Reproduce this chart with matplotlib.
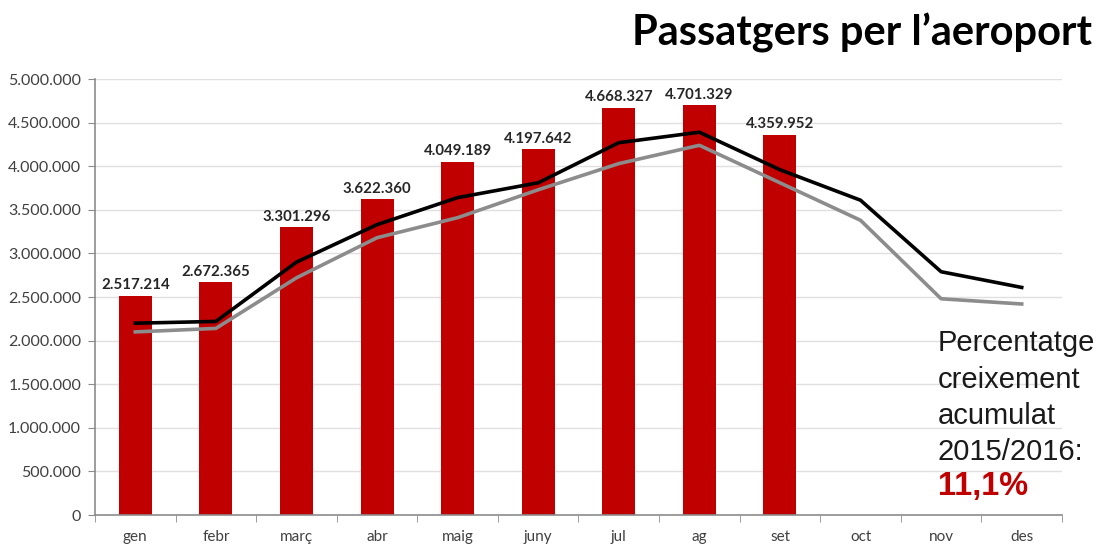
import numpy as np
import matplotlib
matplotlib.use("Agg")
import matplotlib.pyplot as plt
from matplotlib.ticker import FuncFormatter, FixedLocator

# monthly data
months = ['gen', 'febr', 'març', 'abr', 'maig', 'juny', 'jul', 'ag', 'set', 'oct', 'nov', 'des']
pax_2016 = [2517214, 2672365, 3301296, 3622360, 4049189, 4197642, 4668327, 4701329, 4359952]
line_black = [2.20, 2.22, 2.90, 3.33, 3.64, 3.81, 4.27, 4.39, 3.96, 3.61, 2.79, 2.61]
line_gray = [2.10, 2.14, 2.72, 3.18, 3.41, 3.73, 4.03, 4.24, 3.81, 3.38, 2.48, 2.42]
yticks = [0, 500000, 1000000, 1500000, 2000000, 2500000, 3000000, 3500000, 4000000, 4500000, 5000000]

def fmt_dot(v, pos=None):
    return f"{int(round(v)):,}".replace(",", ".")

fig = plt.figure(figsize=(11.02, 5.45), dpi=100)
ax = fig.add_axes([0.0862, 0.055, 0.8775, 0.80])

x = np.arange(len(months))
xb = x[:len(pax_2016)]
ax.bar(xb, pax_2016, width=0.41, color='#C00000', zorder=2)
ax.plot(x, np.array(line_gray) * 1e6, color='#8C8C8C', lw=2.6, zorder=3)
ax.plot(x, np.array(line_black) * 1e6, color='#000000', lw=2.6, zorder=4)

for xi, v in zip(xb, pax_2016):
    ax.annotate(fmt_dot(v), (xi, v), xytext=(0, 2.5), textcoords='offset points',
                ha='center', va='bottom', fontsize=10.8, fontweight='bold',
                color='#262626', family='Lato')

ax.set_xlim(-0.5, len(months) - 0.5)
ax.set_ylim(0, 5000000)
ax.set_yticks(yticks)
ax.yaxis.set_major_formatter(FuncFormatter(fmt_dot))
ax.grid(axis='y', color='#E0E0E0', lw=1, zorder=0)
ax.set_axisbelow(True)

ax.set_xticks(x)
ax.set_xticklabels(months)
ax.xaxis.set_minor_locator(FixedLocator(np.arange(-0.5, len(months), 1)))
ax.tick_params(axis='x', which='major', length=0, pad=10.5, labelsize=11, labelcolor='#404040')
ax.tick_params(axis='x', which='minor', length=5, color='#8C8C8C', direction='out')
ax.tick_params(axis='y', length=5, color='#8C8C8C', labelsize=11.5, labelcolor='#404040', pad=5)
for lab in ax.get_xticklabels() + ax.get_yticklabels():
    lab.set_family('Lato')

for s in ['top', 'right']:
    ax.spines[s].set_visible(False)
for s in ['left', 'bottom']:
    ax.spines[s].set_color('#8C8C8C')
    ax.spines[s].set_linewidth(1.2)

fig.text(0.991, 0.94, "Passatgers per l\u2019aeroport", ha='right', va='center',
         fontsize=30, fontweight='bold', family='Lato', color='#000000')

fig.text(0.851, 0.396, "Percentatge\ncreixement\nacumulat\n2015/2016:", ha='left', va='top',
         fontsize=21, family='Liberation Sans', color='#1a1a1a', linespacing=1.38)
fig.text(0.851, 0.108, "11,1%", ha='left', va='center',
         fontsize=23.5, fontweight='bold', family='Liberation Sans', color='#C00000')

fig.savefig('out.png', dpi=100)
